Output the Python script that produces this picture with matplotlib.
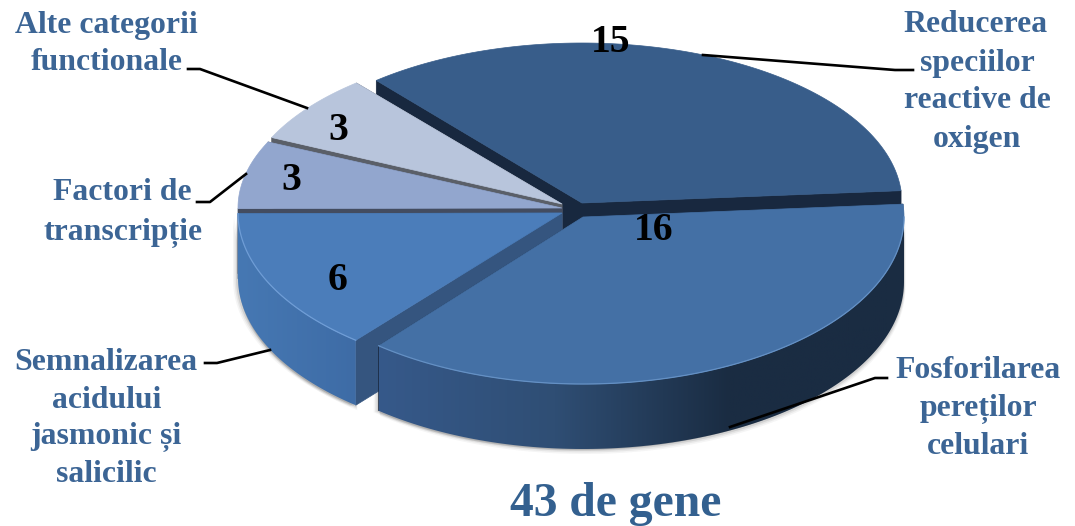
import numpy as np
import matplotlib
matplotlib.use("Agg")
import matplotlib.pyplot as plt
from matplotlib.colors import LinearSegmentedColormap
from matplotlib.patches import Polygon

categorii = ["Reducerea speciilor reactive de oxigen", "Fosforilarea pereților celulari",
             "Semnalizarea acidului jasmonic și salicilic", "Factori de transcripție",
             "Alte categorii functionale"]
valori = [15, 16, 6, 3, 3]
titlu = "43 de gene"

plt.rcParams["font.family"] = ["Liberation Serif", "DejaVu Serif"]

# felii, in ordinea valorilor: varf, raze, culori
varfuri = [(582, 203), (583, 217), (562, 213), (562, 208), (562, 204)]
raze = [(320, 160), (321, 167), (324, 165), (324, 157), (320, 158)]
culori_sus = ["#385D8A", "#4470A5", "#4B7DBA", "#92A6CE", "#B8C5DC"]
culori_cut = ["#18283F", "#18283F", "#35557F", "#434C60", "#5A5F68"]
culori_perete = [None,
                 ["#36598A", "#2F4E74", "#1A2C42", "#1A2C42"],
                 ["#4678B3", "#3E6CA6"], None, None]
culori_rama = [None, "#6490C4", "#6F9DD6", None, None]
adancime = 65
unghi_start = 130

fig = plt.figure(figsize=(10.75, 5.26), dpi=100)
ax = fig.add_axes([0, 0, 1, 1])


def arc(i, a1, a2):
    t = np.radians(np.linspace(a1, a2, 120))
    x = varfuri[i][0] + raze[i][0] * np.cos(t)
    y = varfuri[i][1] - raze[i][1] * np.sin(t)
    return np.column_stack([x, y])


def jos(p):
    return p + np.array([0, adancime])


# unghiurile fiecarei felii, in sensul acelor de ceasornic
unghiuri = []
a = unghi_start
for v in valori:
    b = a - v / sum(valori) * 360
    unghiuri.append((a, b))
    a = b

# umbra slaba sub pereti
for i in [1, 2]:
    a1, a2 = unghiuri[i]
    sus = arc(i, min(a1, 0), a2)
    contur = np.vstack([sus, jos(sus)[::-1]])
    for d, al in [(5, 0.05), (3.5, 0.08), (2, 0.12)]:
        ax.add_patch(Polygon(contur + [d * 0.3, d], fc="#404040", ec="none", alpha=al, zorder=1))
        ax.add_patch(Polygon(contur + [-d, d * 0.3], fc="#404040", ec="none", alpha=al, zorder=1))

# feliile, din spate spre fata
z = 2
for i in [0, 4, 3, 2, 1]:
    a1, a2 = unghiuri[i]
    margine = arc(i, a1, a2)
    v = np.array(varfuri[i], dtype=float)

    # fetele taiate
    for capat in [margine[0], margine[-1]]:
        fata = np.array([v, capat, jos(capat), jos(v)])
        ax.add_patch(Polygon(fata, fc=culori_cut[i], ec=culori_cut[i], lw=0.5, zorder=z))
    z += 1

    # peretele exterior, doar partea din fata
    if culori_perete[i] is not None:
        fata_arc = arc(i, min(a1, 0), a2)
        perete = Polygon(np.vstack([fata_arc, jos(fata_arc)[::-1]]), fc="none", ec="none", zorder=z)
        ax.add_patch(perete)
        cmap = LinearSegmentedColormap.from_list("perete", culori_perete[i])
        x0, x1 = fata_arc[:, 0].min(), fata_arc[:, 0].max()
        img = ax.imshow(np.linspace(0, 1, 256)[None, :], extent=(x0, x1, 460, 200), cmap=cmap,
                        aspect="auto", zorder=z)
        img.set_clip_path(perete)
        z += 1

    # fata de sus
    ax.add_patch(Polygon(np.vstack([v, margine]), fc=culori_sus[i], ec=culori_sus[i], lw=0.5, zorder=z))
    z += 1
    if culori_rama[i] is not None:
        rama = arc(i, min(a1, 0), a2)
        ax.plot(rama[:, 0], rama[:, 1], color=culori_rama[i], lw=0.9, zorder=z)
        z += 1

# valorile de pe felii
poz_valori = [(611, 42), (654, 231), (338, 280), (291, 181), (338, 131)]
for val, (x, y) in zip(valori, poz_valori):
    ax.text(x, y, str(val), color="black", fontsize=28.5, fontweight="bold", ha="center", va="center", zorder=40)

# etichetele, rand cu rand
albastru = "#3C6595"
etichete = [
    ("Alte categorii", 106, 25), ("functionale", 107, 63),
    ("Reducerea", 976, 25), ("speciilor", 977, 64), ("reactive de", 977, 101), ("oxigen", 977, 139),
    ("Factori de", 122, 193), ("transcripție", 123, 233),
    ("Semnalizarea", 106, 363), ("acidului", 107, 400), ("jasmonic și", 106, 437), ("salicilic", 106, 474),
    ("Fosforilarea", 978, 370), ("pereților", 978, 409), ("celulari", 978, 446),
]
for rand, x, y in etichete:
    ax.text(x, y, rand, color=albastru, fontsize=22.9, fontweight="bold", ha="center", va="center", zorder=40)

ax.text(616, 504, titlu, color="#33608F", fontsize=34.3, fontweight="bold", ha="center", va="center", zorder=40)

# liniile de legatura
linii = [
    [(188, 69), (200, 69), (307, 108)],
    [(703, 55), (895, 70), (913, 70)],
    [(197, 202), (210, 202), (246, 174)],
    [(205, 363), (217, 363), (270, 350)],
    [(730, 427), (875, 378), (887, 378)],
]
for l in linii:
    xs, ys = zip(*l)
    ax.plot(xs, ys, color="black", lw=1.9, zorder=30)

ax.set_xlim(0, 1075)
ax.set_ylim(526, 0)
ax.axis("off")

fig.savefig("out.png", dpi=100)
